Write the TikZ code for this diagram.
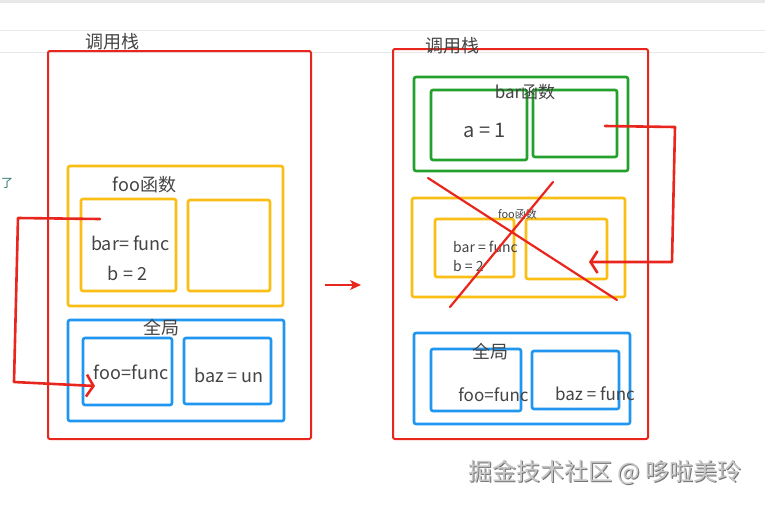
\documentclass[tikz,border=0pt]{standalone}
\usepackage{fontspec}
\setmainfont{Noto Sans CJK SC}
\usepackage{tikz}
\usetikzlibrary{arrows.meta}
\usetikzlibrary{positioning}

\definecolor{penred}{RGB}{232,38,30}
\definecolor{boxyellow}{RGB}{251,190,20}
\definecolor{boxblue}{RGB}{32,150,240}
\definecolor{boxgreen}{RGB}{36,160,44}
\definecolor{inkgray}{RGB}{68,68,68}
\definecolor{rulegray}{RGB}{232,232,232}
\definecolor{tealink}{RGB}{40,120,110}

\begin{document}
\begin{tikzpicture}[x=1pt,y=-1pt,
  size/.style 2 args={minimum width=#1pt, minimum height=#2pt},
  redframe/.style={draw=penred, line width=2pt, rounded corners=2pt, inner sep=0pt},
  yframe/.style={draw=boxyellow, line width=2.6pt, rounded corners=2pt, inner sep=0pt},
  bframe/.style={draw=boxblue, line width=2.6pt, rounded corners=2pt, inner sep=0pt},
  gframe/.style={draw=boxgreen, line width=2.6pt, rounded corners=2pt, inner sep=0pt},
  lbl/.style={text=inkgray, inner sep=0pt, font=\fontsize{#1}{#1}\selectfont},
  pen/.style={draw=penred, line width=2.6pt, line cap=round, line join=round},
  hook/.style={-{Straight Barb[length=7pt,width=22pt]}}]
\useasboundingbox (0,0) rectangle (765,504);
\fill[white] (0,0) rectangle (765,504);
\fill[rulegray] (0,0) rectangle (765,3);
\draw[rulegray, line width=1pt] (0,30) -- (765,30);
\draw[rulegray, line width=1pt] (0,52) -- (765,52);
\node[lbl=12, text=tealink, anchor=west] (cut) at (1,183) {了};

% left stack
\node[redframe, size={263}{388}] (stackL) at (179.5,245) {};
\node[yframe, size={215}{140}] (fooL) at (175.5,236) {};
\node[yframe, size={95}{92}] (fooLa) at (128.5,245) {};
\node[yframe, size={82}{91}] (fooLb) at (229,245.5) {};
\node[bframe, size={216}{101}] (globL) at (176,370.5) {};
\node[bframe, size={89}{67}] (globLa) at (127.5,371.5) {};
\node[bframe, size={87}{66}] (globLb) at (227.5,371) {};
\node[lbl=18] (stackLtxt) at (112,42) {调用栈};
\node[lbl=18] (fooLtxt) at (144.5,185) {foo函数};
\node[lbl=18] (barLtxt) at (130.5,243) {bar= func};
\node[lbl=18] (bLtxt) at (127.5,273) {b = 2};
\node[lbl=18] (globLtxt) at (161,328) {全局};
\node[lbl=18] (fooRefL) at (131,372) {foo=func};
\node[lbl=18] (bazL) at (229,375) {baz = un};

% right stack
\node[redframe, size={255}{390}] (stackR) at (520.5,244) {};
\node[gframe, size={214}{94}] (barR) at (521,124) {};
\node[gframe, size={96}{70}] (barRa) at (479,125) {};
\node[gframe, size={84}{67}] (barRb) at (575,123.5) {};
\node[yframe, size={213}{99}] (fooR) at (518.5,247.5) {};
\node[yframe, size={79}{58}] (fooRa) at (474.5,248) {};
\node[yframe, size={81}{60}] (fooRb) at (566.5,249) {};
\node[bframe, size={216}{91}] (globR) at (522,378.5) {};
\node[bframe, size={90}{62}] (globRa) at (476,380) {};
\node[bframe, size={87}{58}] (globRb) at (575.5,380) {};
\node[lbl=18] (stackRtxt) at (452,46) {调用栈};
\node[lbl=17] (barRtxt) at (525,92) {bar函数};
\node[lbl=20] (aRtxt) at (484.5,130) {a = 1};
\node[lbl=11] (fooRtxt) at (517.5,214) {foo函数};
\node[lbl=14, anchor=west] (barRline) at (453,247) {bar = func};
\node[lbl=14, anchor=west] (bRline) at (453,266) {b = 2};
\node[lbl=18] (globRtxt) at (490,352) {全局};
\node[lbl=17] (fooRefR) at (493.5,395) {foo=func};
\node[lbl=17] (bazR) at (595,394) {baz = func};

% pointers
\coordinate (ptrL) at (100,219);
\coordinate (hitL) at (95,386);
\coordinate (ptrR) at (605,126);
\coordinate (hitR) at (589,262);
\draw[pen, hook] (ptrL) -- ++(-82,-1) -- ++(-4,164) -- (hitL);
\draw[pen, hook] (ptrR) -- ++(70,1) -- ++(-3,135) -- (hitR);
\draw[pen, line width=2.2pt] (428,178) -- (617,300);
\draw[pen, line width=2.2pt] (553,182) -- (450,307);

\coordinate (goL) at (325,285);
\coordinate (goR) at (361,285);
\draw[penred, line width=1.3pt, -{Stealth[length=11pt,width=10pt,inset=3pt]}] (goL) -- (goR);

% watermark
\node[lbl=24, text=black!55] (markshade) at (606,473) {掘金技术社区 @ 哆啦美玲};
\node[lbl=24, text=black!22] (mark) at (605,472) {掘金技术社区 @ 哆啦美玲};
\end{tikzpicture}
\end{document}
